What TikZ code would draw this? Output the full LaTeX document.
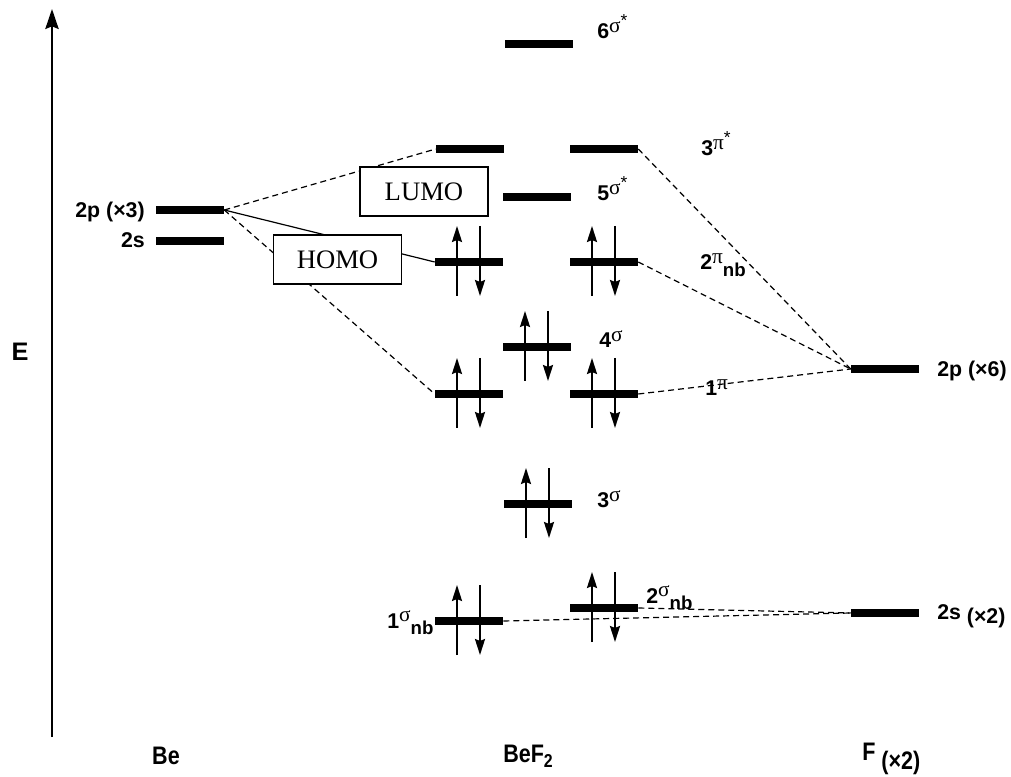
\documentclass[tikz,border=0pt]{standalone}
\usepackage{fontspec}
\setmainfont{Liberation Sans}
\newfontfamily\grk{Liberation Serif}
\newfontfamily\tms{Liberation Serif}
\newfontfamily\narrow{Liberation Sans}[FakeStretch=0.85]
\usetikzlibrary{arrows.meta,calc}

% orbital label: number, raised greek letter, trailing marks
\newcommand\orb[3]{#1\raisebox{5pt}{\fontsize{16}{16}\selectfont\mdseries\grk #2}#3}
\newcommand\st{\raisebox{9pt}{\fontsize{13}{13}\selectfont\mdseries *}}
\newcommand\nbsub{\raisebox{-5pt}{\fontsize{14}{14}\selectfont\bfseries nb}}

\begin{document}
\begin{tikzpicture}[x=0.75pt,y=-0.75pt,
  level/.style={fill=black, inner sep=0pt, minimum width=51pt, minimum height=6pt},
  elec/.style={line width=1.6pt, -{Stealth[length=12pt,width=7.5pt,inset=1.5pt]}},
  corr/.style={line width=0.9pt, dash pattern=on 4.5pt off 3pt},
  link/.style={line width=0.9pt},
  tag/.style={font=\bfseries\fontsize{16}{18}\selectfont, inner sep=0pt, anchor=base west},
  tagr/.style={tag, anchor=base east},
  boxed/.style={draw, line width=1.1pt, fill=white, inner sep=0pt,
    minimum width=96pt, minimum height=36.75pt, font=\tms\fontsize{20}{24}\selectfont},
  side/.style={font=\narrow\bfseries\fontsize{19}{21}\selectfont, inner sep=0pt}
]
\useasboundingbox (0,0) rectangle (1011,777);

% energy axis
\coordinate (axb) at (52,737);
\coordinate (axt) at (52,9);
\draw[line width=1.5pt, -{Stealth[length=15pt,width=10pt,inset=2pt]}] (axb) -- (axt);
\node[font=\bfseries\fontsize{19}{20}\selectfont, inner sep=0pt] (E) at (20,352) {E};

% atomic levels
\node[level] (be2p) at (190,210) {};
\node[level] (be2s) at (190,241) {};
\node[level] (f2p) at (885,369) {};
\node[level] (f2s) at (885,613) {};

% molecular levels of BeF2
\node[level] (s6) at (539,44) {};
\node[level] (p3L) at (470,149) {};
\node[level] (p3R) at (604,149) {};
\node[level] (s5) at (537,197) {};
\node[level] (p2L) at (469,262) {};
\node[level] (p2R) at (604,262) {};
\node[level] (s4) at (537,347) {};
\node[level] (p1L) at (469,394) {};
\node[level] (p1R) at (604,394) {};
\node[level] (s3) at (538,504) {};
\node[level] (s1nb) at (469,621) {};
\node[level] (s2nb) at (604,608) {};

% correlation lines
\draw[corr] (be2p.east) -- (p3L.west);
\draw[link] (be2p.east) -- (p2L.west);
\draw[corr] (be2p.east) -- (p1L.west);
\draw[corr] (p3R.east) -- (f2p.west);
\draw[corr] (p2R.east) -- (f2p.west);
\draw[corr] (p1R.east) -- (f2p.west);
\draw[corr] (s1nb.east) -- (f2s.west);
\draw[corr] (s2nb.east) -- (f2s.west);

% redraw levels above the lines
\foreach \n in {be2p,be2s,f2p,f2s,s6,p3L,p3R,s5,p2L,p2R,s4,p1L,p1R,s3,s1nb,s2nb}
  \fill ($(\n.south west)$) rectangle ($(\n.north east)$);

% electron pairs
\foreach \n in {p2L,p2R,s4,p1L,p1R,s3,s1nb,s2nb}{
  \draw[elec] ($(\n)+(-12,34)$) -- ($(\n)+(-12,-36)$);
  \draw[elec] ($(\n)+(11,-36)$) -- ($(\n)+(11,34)$);
}

% frontier orbital boxes
\node[boxed] (lumo) at (424,191.5) {LUMO};
\node[boxed] (homo) at (337.5,259.5) {HOMO};

% orbital labels
\node[tag] (l6) at (597,39) {\orb{6}{σ}{\st}};
\node[tag] (l3p) at (701,156) {\orb{3}{π}{\st}};
\node[tag] (l5) at (597,201) {\orb{5}{σ}{\st}};
\node[tag] (l2p) at (700,270) {\orb{2}{π}{\nbsub}};
\node[tag] (l4) at (599,348) {\orb{4}{σ}{}};
\node[tag] (l1p) at (705,396) {\orb{1}{π}{}};
\node[tag] (l3) at (597,508) {\orb{3}{σ}{}};
\node[tag] (l1nb) at (387,628) {\orb{1}{σ}{\nbsub}};
\node[tag] (l2nb) at (646,603) {\orb{2}{σ}{\nbsub}};

\node[tagr] (lbe2p) at (145,218) {2p (×3)};
\node[tagr] (lbe2s) at (145,248) {2s};
\node[tag] (lf2p) at (937,377) {2p (×6)};
\node[tag] (lf2s) at (937,619) {2s \raisebox{-3pt}{(×2)}};

% species
\node[side] (be) at (166,756) {Be};
\node[side] (bef2) at (528,756) {BeF\raisebox{-4pt}{\fontsize{14}{14}\selectfont 2}};
\node[side, anchor=base west] (fx2) at (862,760) {F \raisebox{-7pt}{(×2)}};
\end{tikzpicture}
\end{document}
